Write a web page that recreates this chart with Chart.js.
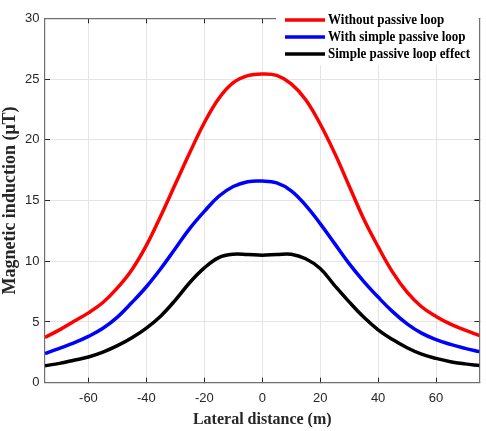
<!DOCTYPE html>
<html lang="en">
<head>
    <meta charset="UTF-8">
    <title>Magnetic induction vs lateral distance</title>
    <script src="https://cdn.jsdelivr.net/npm/chart.js@4.4.1/dist/chart.umd.min.js"></script>
    <style>
        body { margin: 0; background: #fff; }
    </style>
</head>
<body>

<canvas id="chart" width="486" height="431"></canvas>

<script>

    // values
    const distance = [-75, -70, -65, -60, -55, -50, -45, -40, -35, -30, -25, -20, -15, -10, -5, 0,
                      5, 10, 15, 20, 25, 30, 35, 40, 45, 50, 55, 60, 65, 70, 75];
    const withoutLoop = [3.73, 4.35, 5.05, 5.75, 6.6, 7.8, 9.3, 11.3, 13.75, 16.35, 18.95, 21.4, 23.4, 24.7, 25.28, 25.42,
                         25.3, 24.6, 23.3, 21.3, 18.9, 16.2, 13.5, 11.2, 9.1, 7.45, 6.25, 5.45, 4.82, 4.33, 3.88];
    const withLoop = [2.4, 2.83, 3.28, 3.81, 4.48, 5.4, 6.6, 7.9, 9.4, 11.05, 12.7, 14.1, 15.35, 16.15, 16.55, 16.6,
                      16.45, 15.8, 14.6, 13.1, 11.45, 9.8, 8.35, 7.05, 5.85, 4.85, 4.08, 3.55, 3.15, 2.83, 2.56];
    const loopEffect = [1.4, 1.59, 1.85, 2.12, 2.52, 3.05, 3.7, 4.5, 5.5, 6.8, 8.25, 9.45, 10.3, 10.58, 10.55, 10.5,
                        10.55, 10.58, 10.2, 9.4, 8.0, 6.65, 5.4, 4.35, 3.55, 2.88, 2.35, 2.0, 1.73, 1.55, 1.41];

    const seriesNames = ['Without passive loop', 'With simple passive loop', 'Simple passive loop effect'];
    const xTicks = [-60, -40, -20, 0, 20, 40, 60];
    const yTicks = [0, 5, 10, 15, 20, 25, 30];

    const points = (ys) => distance.map((x, i) => ({x: x, y: ys[i]}));

    const tickFont = {family: 'Liberation Sans', size: 13};
    const gridColor = '#e4e4e4';
    const axisColor = '#707070';
    const tickColor = '#262626';

    // legend drawn on a white box in the upper right corner, like the original
    const boxLegend = {
        id: 'boxLegend',
        afterDatasetsDraw(chart) {
            const ctx = chart.ctx;
            ctx.save();
            ctx.fillStyle = '#fff';
            ctx.fillRect(276, 8.3, chart.chartArea.right - 276 - 0.8, 57);
            chart.data.datasets.forEach((ds, i) => {
                const y = 20 + 17 * i;
                ctx.strokeStyle = ds.borderColor;
                ctx.lineWidth = 3.5;
                ctx.beginPath();
                ctx.moveTo(285, y);
                ctx.lineTo(325, y);
                ctx.stroke();
                ctx.save();
                ctx.translate(328, y);
                ctx.scale(0.93, 1);
                ctx.fillStyle = '#000';
                ctx.font = 'bold 14px "Liberation Serif"';
                ctx.textBaseline = 'middle';
                ctx.fillText(ds.label, 0, 0);
                ctx.restore();
            });
            ctx.restore();
        }
    };

    function boxAxis(axis, position, ticks, min, max, size) {
        return {
            type: 'linear', axis: axis, position: position, min: min, max: max,
            afterBuildTicks: (s) => { s.ticks = ticks.map(v => ({value: v})); },
            afterFit: (s) => { if (axis === 'x') s.height = size; else s.width = size; },
            ticks: {display: false},
            grid: {drawOnChartArea: false, tickLength: -5, tickColor: tickColor},
            border: {color: axisColor, width: 1.2}
        };
    }

    const ctx = document.getElementById('chart').getContext('2d');
    const myChart = new Chart(ctx, {
        type: 'line',
        data: {
            datasets: [
                {label: seriesNames[0], data: points(withoutLoop), borderColor: '#ff0000'},
                {label: seriesNames[1], data: points(withLoop), borderColor: '#0000ff'},
                {label: seriesNames[2], data: points(loopEffect), borderColor: '#000000'}
            ]
        },
        options: {
            responsive: false,
            animation: false,
            layout: {padding: 0},
            elements: {
                line: {borderWidth: 3.5, tension: 0.4, fill: false},
                point: {radius: 0}
            },
            plugins: {legend: {display: false}, tooltip: {enabled: false}},
            scales: {
                x: {
                    type: 'linear', position: 'bottom', min: -75, max: 75,
                    afterBuildTicks: (s) => { s.ticks = xTicks.map(v => ({value: v})); },
                    afterFit: (s) => { s.height = 48.3; },
                    ticks: {font: tickFont, color: tickColor, padding: 13, maxRotation: 0},
                    grid: {color: gridColor, tickLength: -5, tickColor: tickColor},
                    border: {color: axisColor, width: 1.2},
                    title: {
                        display: true, text: 'Lateral distance (m)', color: '#262626',
                        font: {family: 'Liberation Serif', size: 16, weight: 'bold'},
                        padding: {top: 0, bottom: 2}
                    }
                },
                y: {
                    type: 'linear', position: 'left', min: 0, max: 30,
                    afterBuildTicks: (s) => { s.ticks = yTicks.map(v => ({value: v})); },
                    afterFit: (s) => { s.width = 45; },
                    ticks: {font: tickFont, color: tickColor, padding: 10.5},
                    grid: {color: gridColor, tickLength: -5, tickColor: tickColor},
                    border: {color: axisColor, width: 1.2},
                    title: {
                        display: true, text: 'Magnetic induction (\u03bcT)', color: '#262626',
                        font: {family: 'Liberation Serif', size: 18, weight: 'bold'},
                        padding: {top: 0, bottom: 0}
                    }
                },
                x2: boxAxis('x', 'top', xTicks, -75, 75, 7.5),
                y2: boxAxis('y', 'right', yTicks, 0, 30, 6.5)
            }
        },
        plugins: [boxLegend]
    });

</script>

</body>
</html>
